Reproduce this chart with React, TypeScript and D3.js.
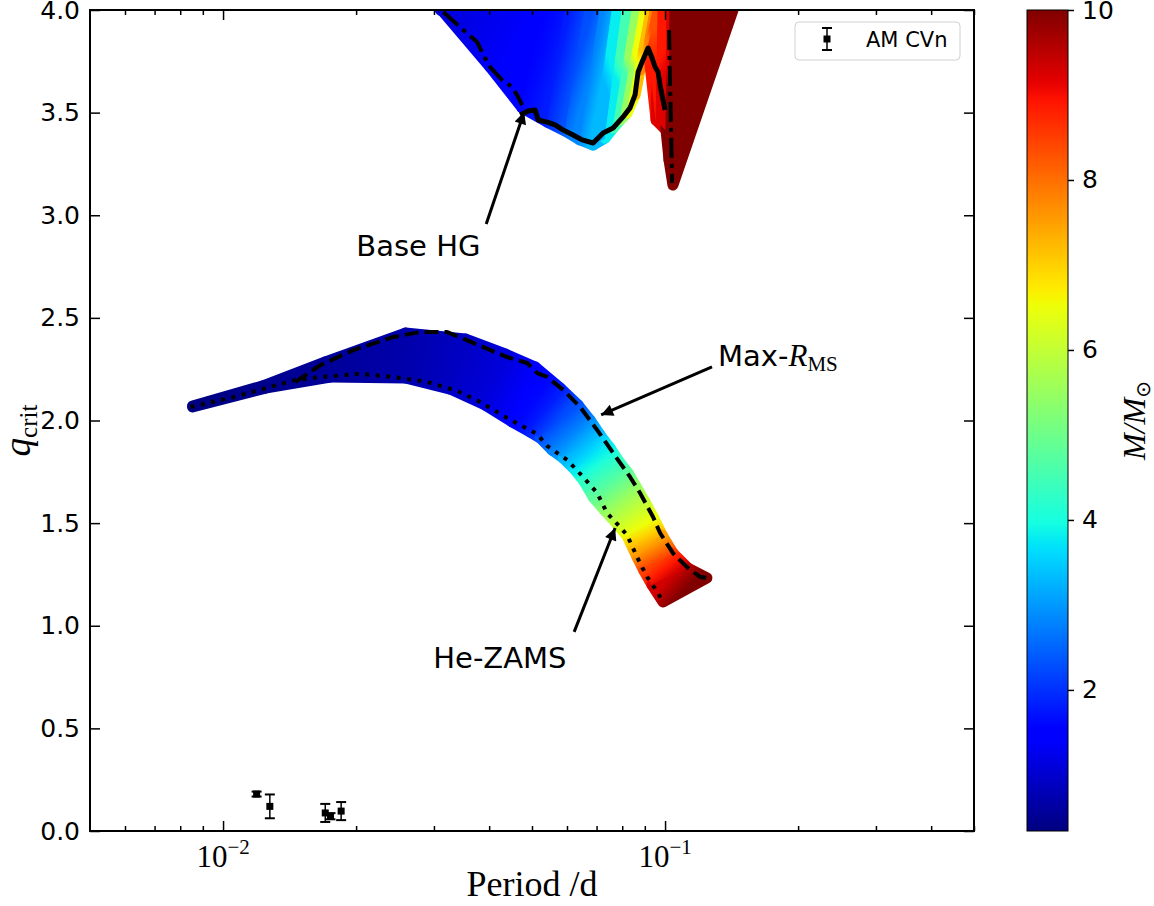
import React, { useEffect, useRef } from "react";
import * as d3 from "d3";

// lower band: one row per mass, Max-R_MS side (top) and He-ZAMS side (bot)
const lowMass = [0.34, 0.45, 0.55, 0.7, 0.9, 1.1, 1.4, 1.8, 2.3, 2.8, 3.3, 3.8, 4.3, 4.8, 5.4, 6.0, 6.5, 7.5, 8.5, 9.3, 10];
const lowTopP = [0.00853, 0.01227, 0.01704, 0.02584, 0.03531, 0.04348, 0.05083, 0.0579, 0.06359, 0.06768, 0.07131, 0.0751, 0.07911, 0.08248, 0.08553, 0.09011, 0.09395, 0.09845, 0.1042, 0.1127, 0.1244];
const lowTopQ = [2.071, 2.168, 2.285, 2.426, 2.397, 2.324, 2.261, 2.158, 2.075, 2.002, 1.929, 1.866, 1.793, 1.744, 1.686, 1.603, 1.53, 1.442, 1.354, 1.281, 1.233];
const lowBotP = [0.00853, 0.01247, 0.01749, 0.02584, 0.03266, 0.03918, 0.04509, 0.04952, 0.05218, 0.05554, 0.05881, 0.0626, 0.06526, 0.06876, 0.07318, 0.07789, 0.08205, 0.08643, 0.08966, 0.09346, 0.09897];
const lowBotQ = [2.066, 2.158, 2.212, 2.207, 2.153, 2.075, 1.993, 1.944, 1.915, 1.856, 1.817, 1.759, 1.71, 1.627, 1.559, 1.496, 1.437, 1.335, 1.267, 1.199, 1.116];

// upper region above base HG: one row per mass, bottom edge and top (q = 4)
const hgMass = [1.1, 1.3, 1.5, 1.8, 2.3, 2.8, 3.3, 3.8, 4.5, 5.5, 6.5, 7.2, 7.8, 8.3, 8.9, 9.2, 10, 10];
const hgBotP = [0.03149, 0.04021, 0.0475, 0.05412, 0.05943, 0.06425, 0.06876, 0.07318, 0.07629, 0.07911, 0.08205, 0.08553, 0.08779, 0.09153, 0.09543, 0.1005, 0.1021, 0.1042];
const hgBotQ = [3.99, 3.722, 3.523, 3.454, 3.41, 3.367, 3.342, 3.376, 3.425, 3.464, 3.498, 3.586, 3.708, 3.82, 3.464, 3.415, 3.269, 3.147];
const hgTopP = [0.031, 0.04236, 0.05218, 0.05943, 0.06596, 0.07131, 0.07592, 0.07994, 0.08421, 0.08779, 0.09057, 0.0925, 0.09395, 0.09543, 0.09643, 0.101, 0.1026, 0.1425];
const hgTopQ = [4, 4, 4, 4, 4, 4, 4, 4, 4, 4, 4, 4, 4, 4, 4, 4, 4, 4];

// boundary lines
const zamsP = [0.00844, 0.01039, 0.013, 0.01458, 0.01661, 0.02045, 0.02428, 0.02897, 0.03387, 0.03818, 0.04393, 0.05137, 0.05412, 0.06005, 0.06526, 0.07019, 0.07394, 0.0783, 0.08205, 0.08643, 0.09106, 0.09643, 0.09845];
const zamsQ = [2.066, 2.11, 2.168, 2.197, 2.212, 2.227, 2.212, 2.188, 2.144, 2.09, 2.012, 1.934, 1.876, 1.808, 1.725, 1.647, 1.549, 1.491, 1.442, 1.335, 1.238, 1.16, 1.121];
const maxrP = [0.01458, 0.01661, 0.01971, 0.02428, 0.02794, 0.03215, 0.03681, 0.04393, 0.04875, 0.05137, 0.05412, 0.05881, 0.06425, 0.07019, 0.07629, 0.08334, 0.08779, 0.09395, 0.09743, 0.1042, 0.1121, 0.12, 0.1244];
const maxrQ = [2.188, 2.27, 2.343, 2.407, 2.431, 2.431, 2.378, 2.309, 2.28, 2.231, 2.212, 2.149, 2.066, 1.954, 1.842, 1.725, 1.647, 1.53, 1.452, 1.354, 1.286, 1.238, 1.233];
const hgLeftP = [0.03149, 0.03495, 0.03758, 0.03877, 0.04021, 0.0428, 0.04509, 0.04652, 0.0475];
const hgLeftQ = [3.99, 3.903, 3.844, 3.781, 3.722, 3.659, 3.625, 3.576, 3.537];
const baseHgP = [0.04701, 0.049, 0.05083, 0.05163, 0.05412, 0.05642, 0.05881, 0.06194, 0.06493, 0.06876, 0.07242, 0.07629, 0.08036, 0.08334, 0.08553, 0.0869, 0.08872, 0.09153, 0.09346, 0.09493, 0.09643, 0.09743, 0.09897, 0.1];
const baseHgQ = [3.488, 3.508, 3.513, 3.464, 3.454, 3.44, 3.415, 3.391, 3.367, 3.352, 3.401, 3.425, 3.479, 3.523, 3.586, 3.698, 3.747, 3.815, 3.766, 3.722, 3.698, 3.635, 3.562, 3.513];
const hgRightP = [0.1021, 0.1026, 0.1032, 0.1037];
const hgRightQ = [3.903, 3.659, 3.415, 3.157];

// AM CVn systems
const amP = [0.01191, 0.01276, 0.01703, 0.0175, 0.0185];
const amQ = [0.18, 0.12, 0.088, 0.072, 0.097];
const amErr = [0.012, 0.058, 0.044, 0.015, 0.044];

const yTicks = [0, 0.5, 1, 1.5, 2, 2.5, 3, 3.5, 4];
const xMajor = [0.01, 0.1];
const xMajorExp = ["\u22122", "\u22121"];
const xMinor = [0.006, 0.007, 0.008, 0.009, 0.02, 0.03, 0.04, 0.05, 0.06, 0.07, 0.08, 0.09, 0.2, 0.3, 0.4, 0.5];
const cbTicks = [2, 4, 6, 8, 10];
const cbRange = [0.34, 10];

const annots = [
  { label: "Base HG", tx: 0.02002, tq: 2.801, fromP: 0.03939, fromQ: 2.957, toP: 0.048, toQ: 3.503 },
  { label: "Max-", tx: 0.1318, tq: 2.266, fromP: 0.1277, fromQ: 2.261, toP: 0.07167, toQ: 2.027 },
  { label: "He-ZAMS", tx: 0.02989, tq: 0.794, fromP: 0.06228, fromQ: 0.97, toP: 0.07709, toQ: 1.476 },
];

const SANS = "DejaVu Sans";
const SERIF = "Liberation Serif";

const jetR = d3.scaleLinear().domain([0, 0.35, 0.66, 0.89, 1]).range([0, 0, 1, 1, 0.5]).clamp(true);
const jetG = d3.scaleLinear().domain([0, 0.125, 0.375, 0.64, 0.91, 1]).range([0, 0, 1, 1, 0, 0]).clamp(true);
const jetB = d3.scaleLinear().domain([0, 0.11, 0.34, 0.65, 1]).range([0.5, 1, 1, 0, 0]).clamp(true);
const jet = (t: number) => d3.rgb(jetR(t) * 255, jetG(t) * 255, jetB(t) * 255).formatHex();

export default function App() {
  const ref = useRef<SVGSVGElement>(null);

  useEffect(() => {
    const svg = d3.select(ref.current);
    svg.selectAll("*").remove();

    const m = { left: 90, right: 974, top: 10, bottom: 831 };
    const x = d3.scaleLog().domain([0.005, 0.5]).range([m.left, m.right]);
    const y = d3.scaleLinear().domain([0, 4]).range([m.bottom, m.top]);
    const norm = d3.scaleLinear().domain(cbRange).range([0, 1]).clamp(true);
    const color = (v: number) => jet(norm(v));

    const defs = svg.append("defs");
    defs.append("clipPath").attr("id", "plot").append("rect")
      .attr("x", m.left).attr("y", m.top).attr("width", m.right - m.left).attr("height", m.bottom - m.top);
    defs.append("marker").attr("id", "head").attr("viewBox", "0 0 10 10")
      .attr("refX", 10).attr("refY", 5).attr("markerWidth", 20).attr("markerHeight", 12)
      .attr("markerUnits", "userSpaceOnUse").attr("orient", "auto")
      .append("path").attr("d", "M0,0L10,5L0,10z").attr("fill", "#000");

    const g = svg.append("g").attr("clip-path", "url(#plot)");

    // filled regions coloured by mass, each strip shaded between its two mass rows
    const drawBand = (id: string, mass: number[], tp: number[], tq: number[], bp: number[], bq: number[]) => {
      const polys = d3.range(mass.length - 1).map((i) => {
        const a = [(x(tp[i]) + x(bp[i])) / 2, (y(tq[i]) + y(bq[i])) / 2];
        const b = [(x(tp[i + 1]) + x(bp[i + 1])) / 2, (y(tq[i + 1]) + y(bq[i + 1])) / 2];
        const gid = `${id}${i}`;
        const lg = defs.append("linearGradient").attr("id", gid).attr("gradientUnits", "userSpaceOnUse")
          .attr("x1", a[0]).attr("y1", a[1]).attr("x2", b[0]).attr("y2", b[1]);
        [0, 0.5, 1].forEach((f) =>
          lg.append("stop").attr("offset", f).attr("stop-color", color(mass[i] + f * (mass[i + 1] - mass[i]))));
        return {
          pts: [[x(tp[i]), y(tq[i])], [x(tp[i + 1]), y(tq[i + 1])], [x(bp[i + 1]), y(bq[i + 1])], [x(bp[i]), y(bq[i])]],
          c: `url(#${gid})`,
        };
      });
      const pass = (w: number) =>
        g.append("g").selectAll("polygon").data(polys).join("polygon")
          .attr("points", (d) => d.pts.map((p) => p.join(",")).join(" "))
          .attr("fill", (d) => d.c).attr("stroke", (d) => d.c)
          .attr("stroke-width", w).attr("stroke-linejoin", "round");
      pass(11);
      pass(1);
    };
    drawBand("lo", lowMass, lowTopP, lowTopQ, lowBotP, lowBotQ);
    drawBand("hg", hgMass, hgTopP, hgTopQ, hgBotP, hgBotQ);

    const line = d3.line<number>();
    const path = (P: number[], Q: number[], dash: string, w: number) =>
      g.append("path")
        .attr("d", line.x((_, i) => x(P[i])).y((_, i) => y(Q[i]))(P))
        .attr("fill", "none").attr("stroke", "#000").attr("stroke-width", w)
        .attr("stroke-dasharray", dash).attr("stroke-linejoin", "round");
    path(maxrP, maxrQ, "14,6", 4);
    path(zamsP, zamsQ, "4,6.5", 4);
    path(hgLeftP, hgLeftQ, "20,6,4,6", 4);
    path(baseHgP, baseHgQ, "none", 5);
    path(hgRightP, hgRightQ, "20,6,4,6", 4);

    // AM CVn error bars
    const am = g.append("g");
    amP.forEach((p, i) => {
      const cx = x(p);
      am.append("line").attr("x1", cx).attr("x2", cx).attr("y1", y(amQ[i] - amErr[i])).attr("y2", y(amQ[i] + amErr[i]))
        .attr("stroke", "#000").attr("stroke-width", 1.5);
      [amQ[i] - amErr[i], amQ[i] + amErr[i]].forEach((v) =>
        am.append("line").attr("x1", cx - 5).attr("x2", cx + 5).attr("y1", y(v)).attr("y2", y(v))
          .attr("stroke", "#000").attr("stroke-width", 2));
      am.append("rect").attr("x", cx - 3.5).attr("y", y(amQ[i]) - 3.5).attr("width", 7).attr("height", 7).attr("fill", "#000");
    });

    // annotations
    annots.forEach((a) => {
      svg.append("line").attr("x1", x(a.fromP)).attr("y1", y(a.fromQ)).attr("x2", x(a.toP)).attr("y2", y(a.toQ))
        .attr("stroke", "#000").attr("stroke-width", 3).attr("marker-end", "url(#head)");
      const t = svg.append("text").attr("x", x(a.tx)).attr("y", y(a.tq))
        .attr("font-family", SANS).attr("font-size", 29).text(a.label);
      if (a.label === "Max-") {
        t.append("tspan").attr("font-family", SERIF).attr("font-style", "italic").attr("font-size", 31).text("R");
        t.append("tspan").attr("font-family", SERIF).attr("font-size", 21).attr("dy", 5).text("MS");
      }
    });

    // frame and ticks
    svg.append("rect").attr("x", m.left).attr("y", m.top).attr("width", m.right - m.left).attr("height", m.bottom - m.top)
      .attr("fill", "none").attr("stroke", "#000").attr("stroke-width", 2);

    const styleAxis = (sel: any) => {
      sel.select(".domain").remove();
      sel.selectAll(".tick line").attr("stroke", "#000").attr("stroke-width", 1.5);
      sel.selectAll(".tick text").attr("font-family", SANS).attr("font-size", 25).attr("fill", "#000");
    };
    svg.append("g").attr("transform", `translate(${m.left},0)`)
      .call(d3.axisLeft(y).tickValues(yTicks).tickSize(-10).tickPadding(10).tickFormat(d3.format(".1f")))
      .call(styleAxis);
    svg.append("g").attr("transform", `translate(${m.right},0)`)
      .call(d3.axisRight(y).tickValues(yTicks).tickSize(-10).tickFormat(() => ""))
      .call(styleAxis);
    [[d3.axisBottom, m.bottom], [d3.axisTop, m.top]].forEach(([ax, pos]: any) => {
      svg.append("g").attr("transform", `translate(0,${pos})`)
        .call(ax(x).tickValues(xMajor).tickSize(-10).tickFormat(() => "")).call(styleAxis);
      svg.append("g").attr("transform", `translate(0,${pos})`)
        .call(ax(x).tickValues(xMinor).tickSize(-5).tickFormat(() => "")).call(styleAxis);
    });
    xMajor.forEach((v, i) => {
      const t = svg.append("text").attr("x", x(v)).attr("y", m.bottom + 36).attr("text-anchor", "middle")
        .attr("font-family", SERIF).attr("font-size", 31).text("10");
      t.append("tspan").attr("font-size", 21).attr("dy", -13).text(xMajorExp[i]);
    });

    // axis labels
    svg.append("text").attr("x", (m.left + m.right) / 2).attr("y", 896).attr("text-anchor", "middle")
      .attr("font-family", SERIF).attr("font-size", 36).text("Period /d");
    const yl = svg.append("text").attr("transform", `translate(30,${(m.top + m.bottom) / 2 + 10}) rotate(-90)`)
      .attr("text-anchor", "middle").attr("font-family", SERIF).attr("font-size", 37);
    yl.append("tspan").attr("font-style", "italic").text("q");
    yl.append("tspan").attr("font-size", 25).attr("dy", 7).text("crit");

    // legend
    const lgd = svg.append("g");
    lgd.append("rect").attr("x", 795).attr("y", 22).attr("width", 165).attr("height", 38).attr("rx", 4)
      .attr("fill", "#fff").attr("stroke", "#d0d0d0").attr("stroke-width", 1);
    lgd.append("line").attr("x1", 827).attr("x2", 827).attr("y1", 28).attr("y2", 50).attr("stroke", "#000").attr("stroke-width", 1.5);
    [28, 50].forEach((v) => lgd.append("line").attr("x1", 822).attr("x2", 832).attr("y1", v).attr("y2", v).attr("stroke", "#000").attr("stroke-width", 2));
    lgd.append("rect").attr("x", 823.5).attr("y", 35.5).attr("width", 7).attr("height", 7).attr("fill", "#000");
    lgd.append("text").attr("x", 866).attr("y", 47).attr("font-family", SANS).attr("font-size", 21).text("AM CVn");

    // colorbar
    const cb = { x: 1027, w: 41 };
    const cy = d3.scaleLinear().domain(cbRange).range([m.bottom, m.top]);
    const grad = defs.append("linearGradient").attr("id", "jet").attr("x1", 0).attr("y1", 1).attr("x2", 0).attr("y2", 0);
    d3.range(0, 1.0001, 1 / 128).forEach((t) => grad.append("stop").attr("offset", t).attr("stop-color", jet(t)));
    svg.append("rect").attr("x", cb.x).attr("y", m.top).attr("width", cb.w).attr("height", m.bottom - m.top)
      .attr("fill", "url(#jet)").attr("stroke", "#000").attr("stroke-width", 1);
    svg.append("g").attr("transform", `translate(${cb.x + cb.w},0)`)
      .call(d3.axisRight(cy).tickValues(cbTicks).tickSize(6).tickPadding(8).tickFormat(d3.format("d")))
      .call(styleAxis);
    const cl = svg.append("text").attr("transform", `translate(1145,${(m.top + m.bottom) / 2}) rotate(-90)`)
      .attr("text-anchor", "middle").attr("font-family", SERIF).attr("font-style", "italic").attr("font-size", 32);
    cl.append("tspan").text("M/M");
    cl.append("tspan").attr("font-style", "normal").attr("font-family", "DejaVu Sans").attr("font-size", 20).attr("dy", 5).text("\u2299");
  }, []);

  return (
    <svg ref={ref} width={1154} height={906}
      style={{ position: "absolute", left: 0, top: 0, background: "#fff" }} />
  );
}
